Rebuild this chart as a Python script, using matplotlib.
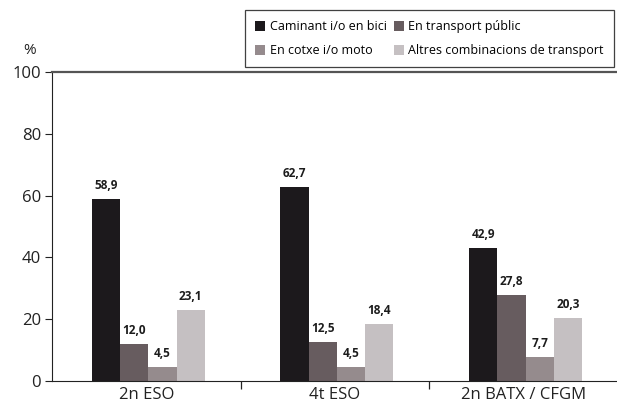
import matplotlib
matplotlib.use("Agg")
import matplotlib.pyplot as plt
import numpy as np

plt.rcParams['font.family'] = ['Open Sans', 'DejaVu Sans']

categories = ["2n ESO", "4t ESO", "2n BATX / CFGM"]
series_names = ["Caminant i/o en bici", "En transport públic",
                "En cotxe i/o moto", "Altres combinacions de transport"]
caminant = [58.9, 62.7, 42.9]
transport_public = [12.0, 12.5, 27.8]
cotxe = [4.5, 4.5, 7.7]
altres = [23.1, 18.4, 20.3]
colors = ["#1c191c", "#675c5f", "#958b8d", "#c5c0c2"]

values = [caminant, transport_public, cotxe, altres]

fig = plt.figure(figsize=(6.17, 4.03), dpi=100)
ax = fig.add_axes([52/617, 1-381/403, 566/617, (381-72)/403])

x = np.arange(len(categories))
w = 0.15
handles = []
for i, (vals, name, c) in enumerate(zip(values, series_names, colors)):
    offs = (i - 1.5) * w + 0.01
    b = ax.bar(x + offs, vals, w, color=c, label=name, zorder=2)
    handles.append(b)
    for xi, v in zip(x, vals):
        ax.text(xi + offs, v + 2.3, f"{v:.1f}".replace(".", ","), ha="center",
                va="bottom", fontsize=8.5, fontweight="bold", color="#1c1c1c")

ax.set_xlim(-0.5, 2.5)
ax.set_ylim(0, 100)
ax.set_yticks([0, 20, 40, 60, 80, 100])
ax.tick_params(axis='y', labelsize=12, length=5, width=0.8, pad=3, colors="#222222")
ax.set_xticks(x)
ax.set_xticklabels(categories)
ax.tick_params(axis='x', which='major', length=0, labelsize=12, pad=4, colors="#222222")
ax.set_xticks([0.5, 1.5], minor=True)
ax.tick_params(axis='x', which='minor', length=6, width=0.9, color="#222222")
ax.spines['right'].set_visible(False)
ax.spines['top'].set_color("#555555")
ax.spines['top'].set_linewidth(1.6)
ax.spines['left'].set_color("#222222")
ax.spines['bottom'].set_color("#222222")
ax.text(-0.04, 1.045, "%", transform=ax.transAxes, fontsize=11, ha="center", va="bottom", color="#222222")

order = [0, 2, 1, 3]
leg = fig.legend([handles[i] for i in order], [series_names[i] for i in order],
                 ncol=2, loc="upper right", bbox_to_anchor=(614/617, 1-10/403),
                 borderaxespad=0,
                 fontsize=9.0, frameon=True, fancybox=False, edgecolor="#111111",
                 handlelength=0.8, handleheight=0.9, handletextpad=0.35,
                 columnspacing=0.6, borderpad=0.8, labelspacing=0.9)
leg.get_frame().set_linewidth(0.9)

fig.savefig("out.png", dpi=100)
